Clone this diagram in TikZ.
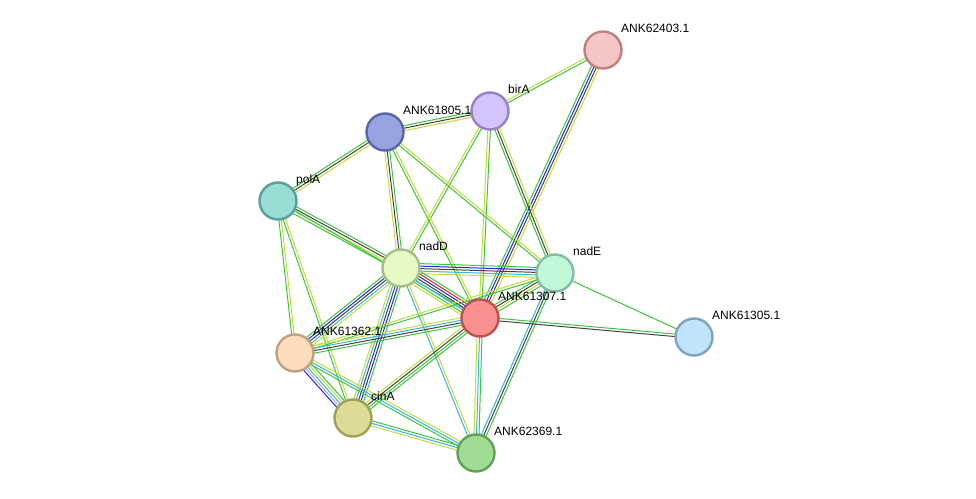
\documentclass[tikz,border=0pt]{standalone}
\usepackage{fontspec}
\setmainfont{Liberation Sans}
\usetikzlibrary{calc,backgrounds}

\definecolor{nb}{HTML}{3CC83C}% green
\definecolor{tm}{HTML}{C6DC3A}% yellow-green
\definecolor{cx}{HTML}{444444}% black
\definecolor{co}{HTML}{2424F0}% blue
\definecolor{db}{HTML}{34B8E0}% cyan
\definecolor{fu}{HTML}{E82424}% red
\definecolor{hm}{HTML}{A8A8FC}% lavender

% one line per colour, side by side
\newcommand{\lnk}[3]{%
  \foreach \col [count=\k] in {#3} {\xdef\lnkn{\k}}%
  \foreach \col [count=\k] in {#3} {%
    \pgfmathsetmacro\off{(\k-(\lnkn+1)/2)*2.5}
    \draw[draw=\col, line width=1pt]
      ($(#1)!\off pt!90:(#2)$) -- ($(#2)!\off pt!-90:(#1)$);
  }%
}

\begin{document}
\begin{tikzpicture}[x=1pt,y=-1pt]
                \tikzset{prot/.style={circle, minimum size=37, inner sep=0, line width=2.4pt},
                         lbl/.style={anchor=base west, inner sep=0, font=\fontsize{12}{14}\selectfont}}
                \useasboundingbox (0,0) rectangle (976,498);

                \node[prot, fill={rgb,255:red,246;green,198;blue,198}, draw={rgb,255:red,192;green,128;blue,128}] (n62403) at (603,50) {};
                \node[prot, fill={rgb,255:red,212;green,196;blue,252}, draw={rgb,255:red,152;green,128;blue,200}] (birA) at (490,111) {};
                \node[prot, fill={rgb,255:red,152;green,164;blue,224}, draw={rgb,255:red,90;green,102;blue,168}] (n61805) at (385,132) {};
                \node[prot, fill={rgb,255:red,152;green,220;blue,212}, draw={rgb,255:red,88;green,160;blue,152}] (polA) at (278,201) {};
                \node[prot, fill={rgb,255:red,228;green,252;blue,196}, draw={rgb,255:red,164;green,192;blue,136}] (nadD) at (401,268) {};
                \node[prot, fill={rgb,255:red,192;green,248;blue,216}, draw={rgb,255:red,128;green,192;blue,160}] (nadE) at (555,273) {};
                \node[prot, fill={rgb,255:red,252;green,144;blue,144}, draw={rgb,255:red,192;green,80;blue,80}] (n61307) at (480,318) {};
                \node[prot, fill={rgb,255:red,192;green,228;blue,252}, draw={rgb,255:red,128;green,164;blue,192}] (n61305) at (694,337) {};
                \node[prot, fill={rgb,255:red,252;green,220;blue,188}, draw={rgb,255:red,192;green,160;blue,128}] (n61362) at (295,353) {};
                \node[prot, fill={rgb,255:red,220;green,220;blue,152}, draw={rgb,255:red,160;green,160;blue,88}] (cinA) at (353,418) {};
                \node[prot, fill={rgb,255:red,160;green,220;blue,148}, draw={rgb,255:red,96;green,160;blue,88}] (n62369) at (476,453) {};

                \node[lbl] (n62403-l) at ($(n62403)+(18,-18)$) {ANK62403.1};
                \node[lbl] (birA-l) at ($(birA)+(18,-18)$) {birA};
                \node[lbl] (n61805-l) at ($(n61805)+(18,-18)$) {ANK61805.1};
                \node[lbl] (polA-l) at ($(polA)+(18,-18)$) {polA};
                \node[lbl] (nadD-l) at ($(nadD)+(18,-18)$) {nadD};
                \node[lbl] (nadE-l) at ($(nadE)+(18,-18)$) {nadE};
                \node[lbl] (n61307-l) at ($(n61307)+(18,-18)$) {ANK61307.1};
                \node[lbl] (n61305-l) at ($(n61305)+(18,-18)$) {ANK61305.1};
                \node[lbl] (n61362-l) at ($(n61362)+(18,-18)$) {ANK61362.1};
                \node[lbl] (cinA-l) at ($(cinA)+(18,-18)$) {cinA};
                \node[lbl] (n62369-l) at ($(n62369)+(18,-18)$) {ANK62369.1};

                \begin{scope}[on background layer]
                \fill[white] (0,0) rectangle (976,498);
                \lnk{n62403}{birA}{tm,nb}
                \lnk{n62403}{n61307}{nb,co,cx,tm}
                \lnk{birA}{n61805}{nb,cx,tm}
                \lnk{birA}{nadD}{tm,nb}
                \lnk{birA}{n61307}{tm,nb}
                \lnk{birA}{nadE}{nb,cx,tm}
                \lnk{n61805}{polA}{nb,cx,tm}
                \lnk{n61805}{nadD}{tm,cx,nb}
                \lnk{n61805}{n61307}{nb,tm}
                \lnk{n61805}{nadE}{nb,tm}
                \lnk{polA}{nadD}{nb,tm,cx,nb}
                \lnk{polA}{n61307}{nb}
                \lnk{polA}{n61362}{nb,tm}
                \lnk{polA}{cinA}{nb,tm}
                \lnk{nadD}{nadE}{tm,db,cx,co,nb}
                \lnk{nadD}{n61307}{tm,nb,db,cx,co,fu,nb}
                \lnk{nadD}{n61362}{nb,co,cx,db,tm}
                \lnk{nadD}{cinA}{tm,db,cx,co,nb}
                \lnk{nadD}{n62369}{db,tm}
                \lnk{nadE}{n61307}{nb,cx,tm,nb}
                \lnk{nadE}{n61305}{nb}
                \lnk{nadE}{n62369}{db,cx,nb}
                \lnk{nadE}{n61362}{tm,nb}
                \lnk{n61307}{n61305}{cx,nb}
                \lnk{n61307}{n61362}{tm,db,cx,nb}
                \lnk{n61307}{cinA}{tm,cx,nb,nb}
                \lnk{n61307}{n62369}{tm,db,nb}
                \lnk{n61362}{cinA}{co,hm,db,tm,nb}
                \lnk{n61362}{n62369}{nb,db,tm}
                \lnk{cinA}{n62369}{tm,db,nb}
                \end{scope}
            \end{tikzpicture}
\end{document}
